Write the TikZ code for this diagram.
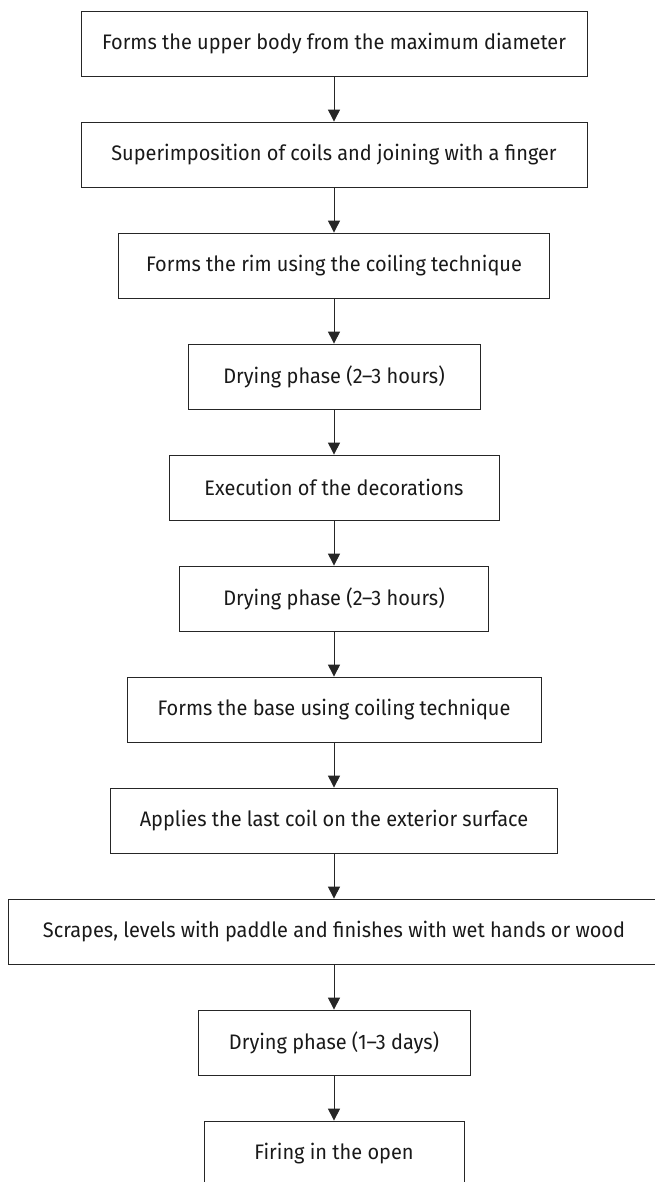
\documentclass[tikz,border=0pt]{standalone}
\usepackage{fontspec}
\setmainfont[FakeStretch=0.95]{Fira Sans}
\usetikzlibrary{arrows.meta}

\begin{document}
\begin{tikzpicture}[x=1pt,y=1pt]
\tikzstyle{stage}=[draw=black!85, line width=1pt, inner sep=0pt, minimum height=65pt, text=black!90, font=\fontsize{21}{25}\selectfont]
\tikzstyle{flow}=[draw=black!85, line width=1pt, -{Triangle[width=12pt,length=12pt]}]
\useasboundingbox (0,0) rectangle (655,-1182);
\clip (0,0) rectangle (655,-1182);
\node [stage, minimum width=506pt] (upper) at (334,-43.6) {Forms the upper body from the maximum diameter};
\node [stage, minimum width=506pt] (coils) at (334,-154.6) {Superimposition of coils and joining with a finger};
\node [stage, minimum width=431pt] (rim) at (334,-265.6) {Forms the rim using the coiling technique};
\node [stage, minimum width=292pt] (dryA) at (334,-376.6) {Drying phase (2--3 hours)};
\node [stage, minimum width=330pt] (decor) at (334,-487.6) {Execution of the decorations};
\node [stage, minimum width=309pt] (dryB) at (334,-598.6) {Drying phase (2--3 hours)};
\node [stage, minimum width=414pt] (base) at (334,-709.6) {Forms the base using coiling technique};
\node [stage, minimum width=447pt] (lastcoil) at (334,-820.6) {Applies the last coil on the exterior surface};
\node [stage, minimum width=651pt] (scrape) at (334,-931.6) {Scrapes, levels with paddle and finishes with wet hands or wood};
\node [stage, minimum width=272pt] (dryC) at (334,-1042.6) {Drying phase (1--3 days)};
\node [stage, minimum width=260pt] (firing) at (334,-1153.6) {Firing in the open};
\draw [flow] (upper) -- (coils);
\draw [flow] (coils) -- (rim);
\draw [flow] (rim) -- (dryA);
\draw [flow] (dryA) -- (decor);
\draw [flow] (decor) -- (dryB);
\draw [flow] (dryB) -- (base);
\draw [flow] (base) -- (lastcoil);
\draw [flow] (lastcoil) -- (scrape);
\draw [flow] (scrape) -- (dryC);
\draw [flow] (dryC) -- (firing);
\end{tikzpicture}
\end{document}
